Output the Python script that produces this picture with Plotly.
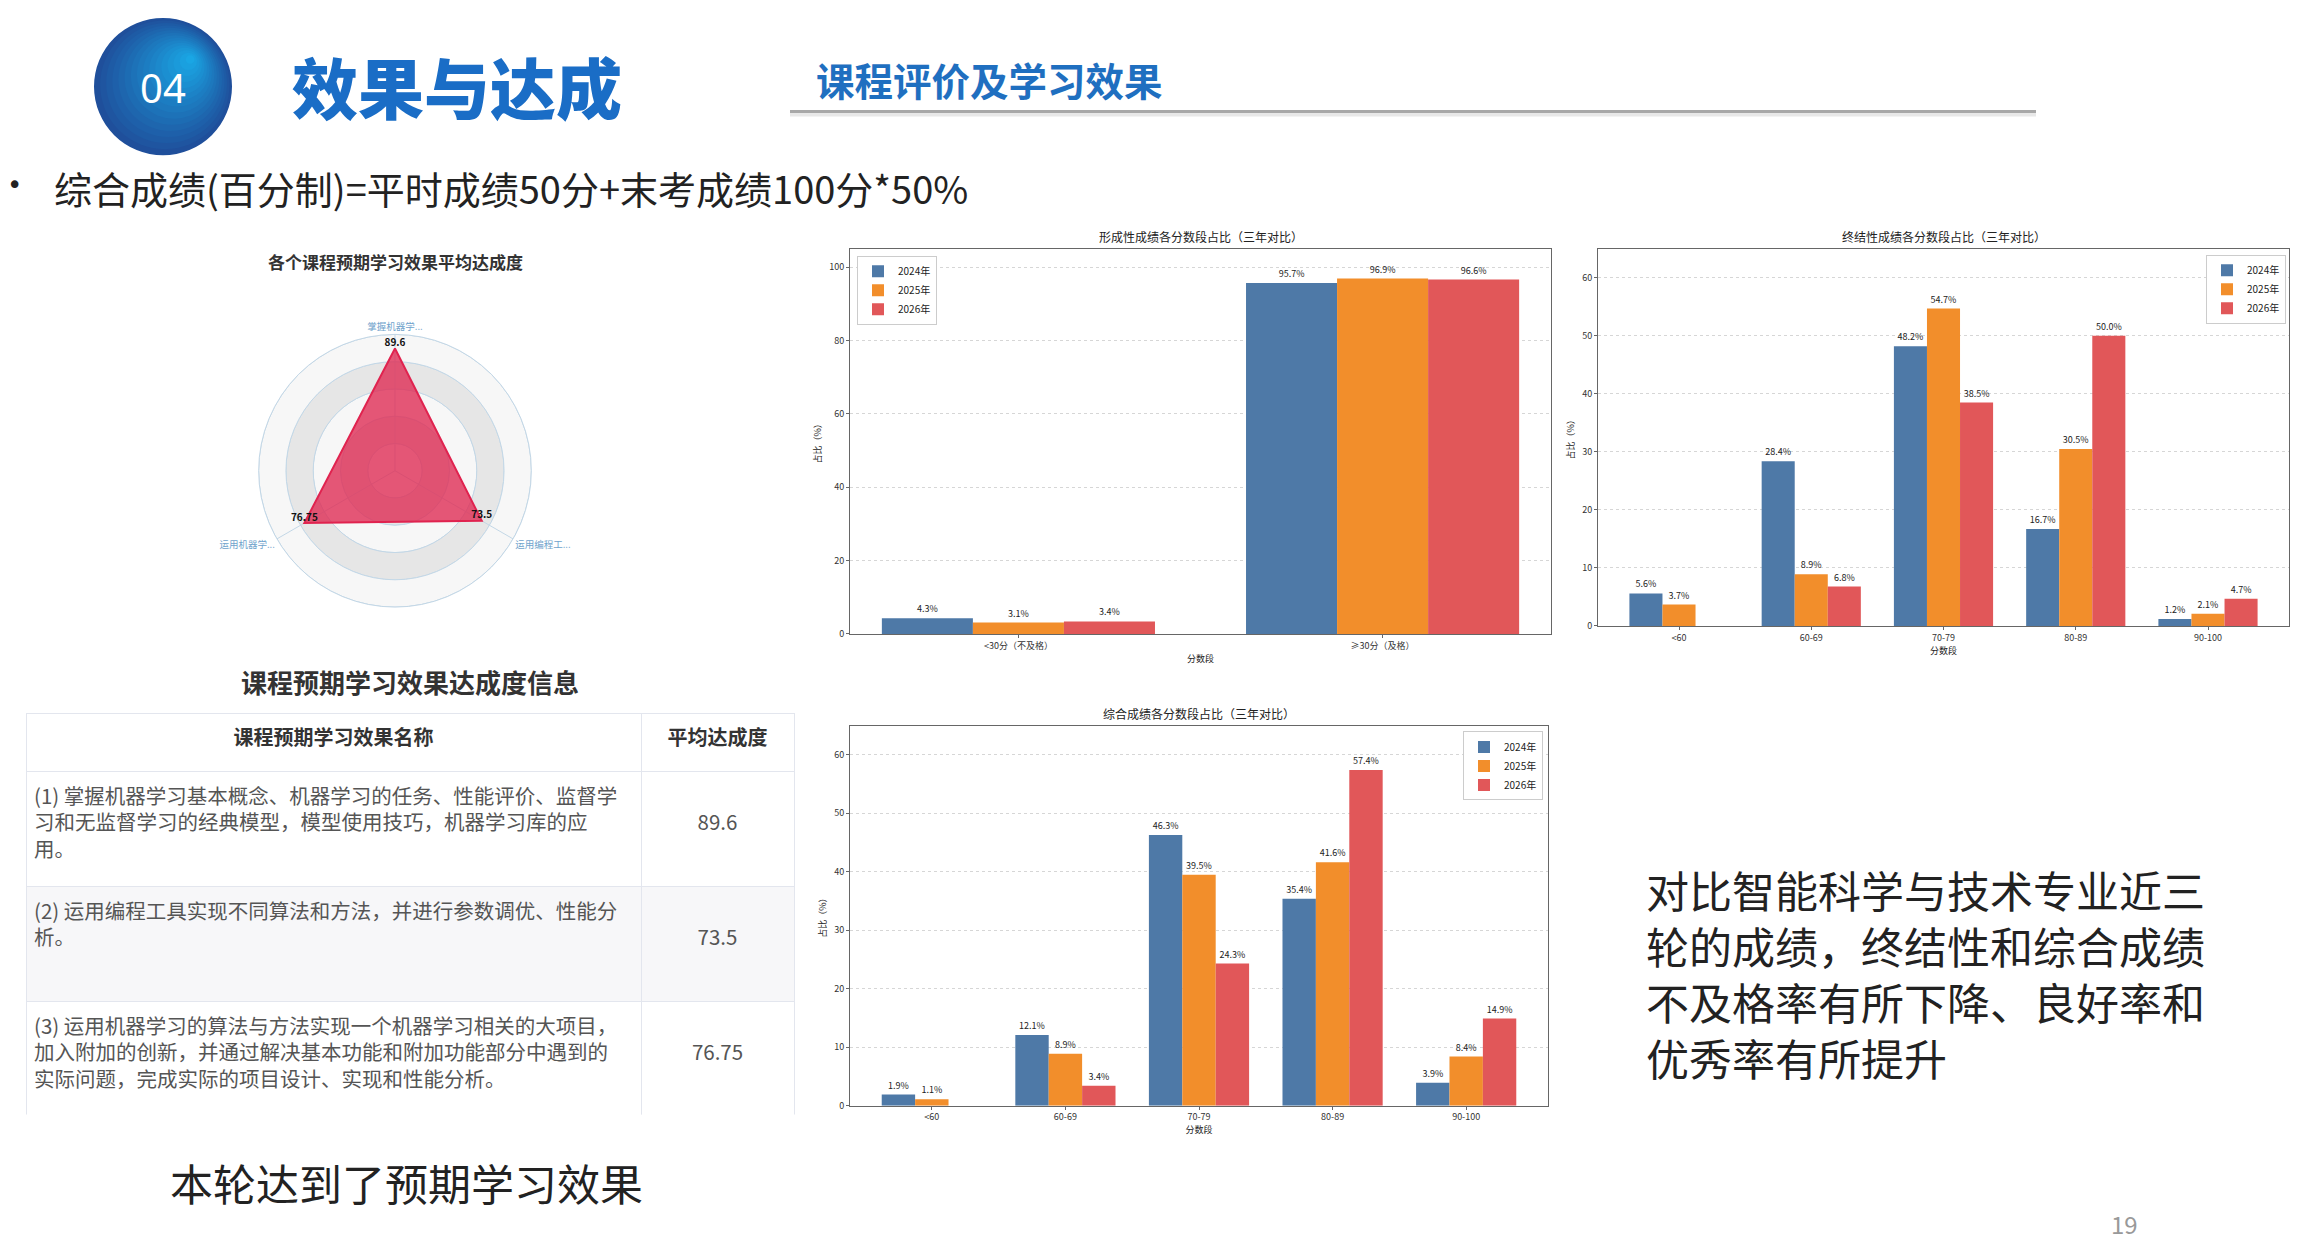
import plotly.graph_objects as go

W, H = 2304, 1254
FONT = "Noto Sans CJK SC"

# ---- data ----
years = ["2024年", "2025年", "2026年"]
year_colors = ["#4e79a7", "#f28e2b", "#e15759"]

form_bins = ["<30分（不及格）", "≥30分（及格）"]
form_2024 = [4.3, 95.7]
form_2025 = [3.1, 96.9]
form_2026 = [3.4, 96.6]

score_bins = ["<60", "60-69", "70-79", "80-89", "90-100"]
final_2024 = [5.6, 28.4, 48.2, 16.7, 1.2]
final_2025 = [3.7, 8.9, 54.7, 30.5, 2.1]
final_2026 = [0, 6.8, 38.5, 50.0, 4.7]

total_2024 = [1.9, 12.1, 46.3, 35.4, 3.9]
total_2025 = [1.1, 8.9, 39.5, 41.6, 8.4]
total_2026 = [0, 3.4, 24.3, 57.4, 14.9]

goal_short = ["掌握机器学...", "运用编程工...", "运用机器学..."]
goal_score = [89.6, 73.5, 76.75]
goal_names = [
    "(1) 掌握机器学习基本概念、机器学习的任务、性能评价、监督学<br>习和无监督学习的经典模型，模型使用技巧，机器学习库的应<br>用。",
    "(2) 运用编程工具实现不同算法和方法，并进行参数调优、性能分<br>析。",
    "(3) 运用机器学习的算法与方法实现一个机器学习相关的大项目，<br>加入附加的创新，并通过解决基本功能和附加功能部分中遇到的<br>实际问题，完成实际的项目设计、实现和性能分析。",
]
ring_edges = [0, 20, 40, 60, 80, 100]

summary_lines = ["对比智能科学与技术专业近三", "轮的成绩，终结性和综合成绩",
                 "不及格率有所下降、良好率和", "优秀率有所提升"]


def px(x):
    return x / W


def py(y):
    return 1 - y / H


def mix(c1, c2, t):
    a = [int(c1[i:i + 2], 16) for i in (1, 3, 5)]
    b = [int(c2[i:i + 2], 16) for i in (1, 3, 5)]
    return "#" + "".join(f"{round(a[k] + (b[k] - a[k]) * t):02x}" for k in range(3))


fig = go.Figure()

# ---- radar ----
goal_theta = [i * 360 / len(goal_short) for i in range(len(goal_short))]
band_colors = ["#f7f7f7" if i % 2 == 0 else "#e6e6e6" for i in range(len(ring_edges) - 1)]
fig.add_trace(go.Barpolar(
    r=[ring_edges[i + 1] - ring_edges[i] for i in range(len(ring_edges) - 1)],
    base=ring_edges[:-1],
    theta=[180] * (len(ring_edges) - 1),
    width=[360] * (len(ring_edges) - 1),
    marker=dict(color=band_colors, line=dict(color="#c3d7e6", width=1)),
    showlegend=False, hoverinfo="skip",
))
spoke_r, spoke_t = [], []
for t in goal_theta:
    spoke_r += [0, ring_edges[-1], None]
    spoke_t += [t, t, None]
fig.add_trace(go.Scatterpolar(r=spoke_r, theta=spoke_t, mode="lines",
                              line=dict(color="#c3d7e6", width=1),
                              showlegend=False, hoverinfo="skip"))
fig.add_trace(go.Scatterpolar(
    r=goal_score + goal_score[:1], theta=goal_theta + goal_theta[:1],
    mode="lines", fill="toself", fillcolor="rgba(222,45,85,0.8)",
    line=dict(color="#e0234f", width=2), showlegend=False,
))
fig.add_trace(go.Scatterpolar(
    r=goal_score, theta=goal_theta, mode="text",
    text=[f"{v:g}" for v in goal_score], textposition="top center",
    textfont=dict(size=10, color="#111", weight="bold"), showlegend=False,
))

# ---- grouped bars ----
charts = [
    ("", form_bins, [form_2024, form_2025, form_2026], "legend"),
    ("2", score_bins, [final_2024, final_2025, final_2026], "legend2"),
    ("3", score_bins, [total_2024, total_2025, total_2026], "legend3"),
]
for n, bins, series, leg in charts:
    for yr, col, vals in zip(years, year_colors, series):
        fig.add_trace(go.Bar(
            x=bins, y=vals, name=yr, marker_color=col, marker_line_width=0,
            text=[f"{v:.1f}%" if v > 0 else "" for v in vals],
            textposition="outside", constraintext="none", cliponaxis=False,
            textfont=dict(size=9, color="#222"),
            xaxis="x" + n, yaxis="y" + n, legend=leg,
        ))

# ---- table ----
row_fill = ["white", "#f7f7f9", "white"]
fig.add_trace(go.Table(
    domain=dict(x=[px(26), px(794)], y=[py(1120), py(717)]),
    columnwidth=[615, 153],
    header=dict(values=["<b>课程预期学习效果名称</b>", "<b>平均达成度</b>"],
                align="center", height=58, fill_color="white",
                line=dict(color="#e3e6ee", width=1),
                font=dict(family=FONT, size=20, color="#333")),
    cells=dict(values=[goal_names, [f"\u00a0<br>{v:g}" for v in goal_score]],
               align=["left", "center"], height=115,
               fill_color=[row_fill, row_fill],
               line=dict(color="#e3e6ee", width=1),
               font=dict(family=FONT, size=20.5, color="#555")),
))

axis_style = dict(showline=True, mirror=True, linecolor="#666", linewidth=1,
                  ticks="outside", ticklen=3, tickcolor="#666",
                  tickfont=dict(size=9, color="#333"))
yaxis_style = dict(axis_style, showgrid=True, gridcolor="#d6d6d6", griddash="dot",
                   zeroline=False, title=dict(text="占比（%）", font=dict(size=9), standoff=6))
xaxis_style = dict(axis_style, type="category", showgrid=False,
                   title=dict(text="分数段", font=dict(size=9), standoff=4))
legend_style = dict(font=dict(size=10, color="#222"), bgcolor="white",
                    bordercolor="#cccccc", borderwidth=1, yanchor="top",
                    itemwidth=30, tracegroupgap=0)

fig.update_layout(
    width=W, height=H,
    margin=dict(l=0, r=0, t=0, b=0),
    paper_bgcolor="white", plot_bgcolor="white",
    font=dict(family=FONT, color="#222"),
    barmode="group", bargap=0.25, bargroupgap=0,
    polar=dict(
        domain=dict(x=[px(258), px(532)], y=[py(610), py(336)]),
        bgcolor="white", barmode="overlay",
        radialaxis=dict(range=[0, 100], tickvals=ring_edges[1:], showticklabels=False,
                        ticks="", showline=False, gridcolor="#c3d7e6"),
        angularaxis=dict(tickvals=goal_theta, ticktext=goal_short, rotation=90,
                         direction="clockwise", showline=True, linecolor="#c3d7e6",
                         gridcolor="#c3d7e6", ticks="",
                         tickfont=dict(size=9.5, color="#6fa3cc")),
    ),
    xaxis=dict(xaxis_style, domain=[px(850), px(1551)], range=[-0.4625, 1.4625], anchor="y"),
    yaxis=dict(yaxis_style, domain=[py(637), py(250)], range=[0, 105], dtick=20, anchor="x"),
    xaxis2=dict(xaxis_style, domain=[px(1598), px(2289)], range=[-0.6125, 4.6125], anchor="y2"),
    yaxis2=dict(yaxis_style, domain=[py(629), py(250)], range=[0, 65], dtick=10, anchor="x2"),
    xaxis3=dict(xaxis_style, domain=[px(850), px(1548)], range=[-0.6125, 4.6125], anchor="y3"),
    yaxis3=dict(yaxis_style, domain=[py(1111), py(729)], range=[0, 65], dtick=10, anchor="x3"),
    legend=dict(legend_style, x=px(857), y=py(257), xanchor="left"),
    legend2=dict(legend_style, x=px(2286), y=py(256), xanchor="right"),
    legend3=dict(legend_style, x=px(1543), y=py(735), xanchor="right"),
)

# chart titles
for n, title in [("", "形成性成绩各分数段占比（三年对比）"),
                 ("2", "终结性成绩各分数段占比（三年对比）"),
                 ("3", "综合成绩各分数段占比（三年对比）")]:
    fig.add_annotation(text=title, xref=f"x{n} domain", yref=f"y{n} domain",
                       x=0.5, y=1, yanchor="bottom", yshift=2, showarrow=False,
                       font=dict(size=12, color="#222"))

# ---- slide decorations ----
# "04" badge: stacked circles fake the blue gradient
cx, cy, R, steps = 163, 87, 69, 16
for i in range(steps):
    r = R * (1 - i / steps)
    off = (R - r) * 0.6
    ccx, ccy = cx + off * 0.7, cy - off * 0.7
    fig.add_shape(type="circle", xref="paper", yref="paper",
                  x0=px(ccx - r), x1=px(ccx + r), y0=py(ccy + r), y1=py(ccy - r),
                  fillcolor=mix("#1f4f9b", "#1aa6e4", i / (steps - 1)), line=dict(width=0))
fig.add_shape(type="line", xref="paper", yref="paper",
              x0=px(790), x1=px(2036), y0=py(115), y1=py(115),
              line=dict(color="#e8e8e8", width=4))
fig.add_shape(type="line", xref="paper", yref="paper",
              x0=px(790), x1=px(2036), y0=py(112), y1=py(112),
              line=dict(color="#a8a8a8", width=3))

texts = [
    dict(text="04", x=px(163), y=py(88), xanchor="center",
         font=dict(size=40, color="white", family="Noto Sans")),
    dict(text="效果与达成", x=px(290), y=py(85), xanchor="left",
         font=dict(size=66, color="#1a6dc6", weight=900)),
    dict(text="课程评价及学习效果", x=px(814), y=py(79), xanchor="left",
         font=dict(size=38.5, color="#1f6fc0", weight="bold")),
    dict(text="•", x=px(5), y=py(186), xanchor="left",
         font=dict(size=26, color="#222", family="DejaVu Sans")),
    dict(text="综合成绩(百分制)=平时成绩50分+末考成绩100分*50%", x=px(52), y=py(188),
         xanchor="left", font=dict(size=38, color="#222")),
    dict(text="各个课程预期学习效果平均达成度", x=px(395), y=py(263), xanchor="center",
         font=dict(size=17, color="#333", weight="bold")),
    dict(text="课程预期学习效果达成度信息", x=px(410), y=py(685), xanchor="center",
         font=dict(size=26, color="#333", weight="bold")),
    dict(text="本轮达到了预期学习效果", x=px(168), y=py(1188), xanchor="left",
         font=dict(size=43, color="#222")),
    dict(text="19", x=px(2124), y=py(1229), xanchor="center",
         font=dict(size=24, color="#999")),
    dict(text="<br>".join(summary_lines), x=px(1644), y=py(978), xanchor="left",
         align="left", font=dict(size=43, color="#222")),
]
for t in texts:
    fig.add_annotation(xref="paper", yref="paper", yanchor="middle",
                       showarrow=False, **t)

fig.write_html("out.html", config={"displayModeBar": False},
               post_script="document.body.style.margin='0';")
